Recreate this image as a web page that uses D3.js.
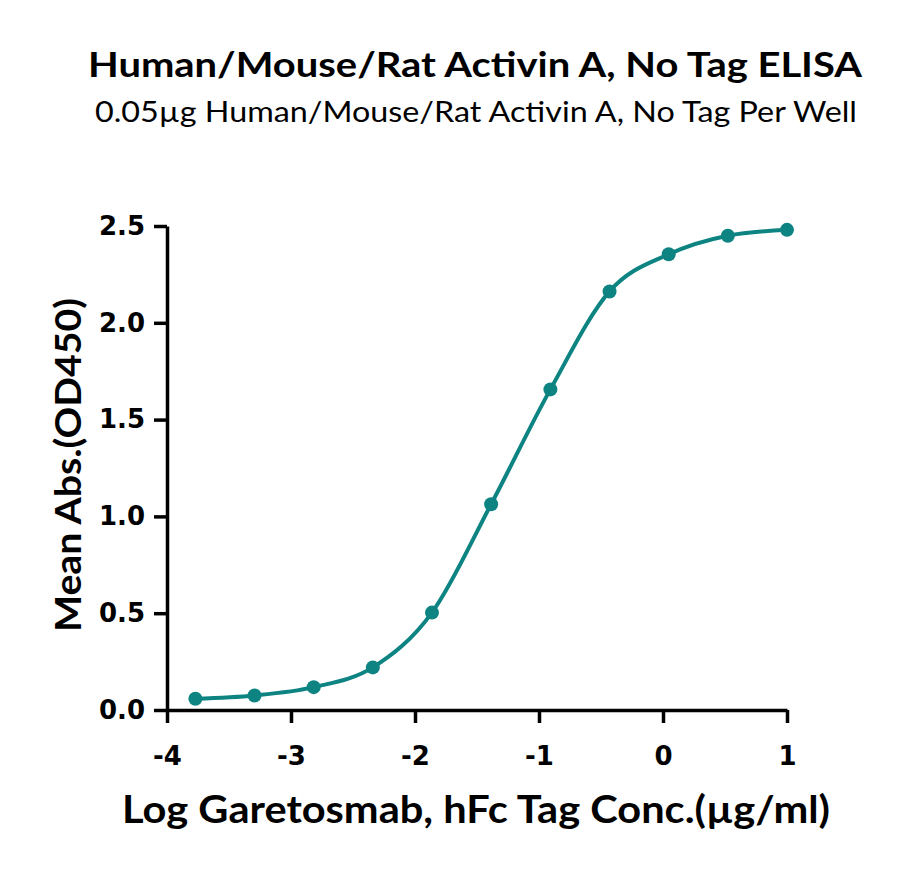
<!DOCTYPE html>
<html>
<head>
<meta charset="utf-8">
<script src="https://cdn.jsdelivr.net/npm/d3@7"></script>
<style>
  body { margin: 0; background: #fff; }
  svg { display: block; }
</style>
</head>
<body>
<svg id="chart" width="900" height="872"></svg>
<script>
// log10 concentration (µg/ml) and mean OD450
const logConc = [-3.771, -3.294, -2.817, -2.340, -1.863, -1.386, -0.908, -0.431, 0.046, 0.523, 1.0];
const meanAbs = [0.058, 0.075, 0.118, 0.220, 0.503, 1.063, 1.656, 2.162, 2.354, 2.450, 2.480];
const xTicks = [-4, -3, -2, -1, 0, 1];
const yTicks = [0, 0.5, 1.0, 1.5, 2.0, 2.5];

const title = "Human/Mouse/Rat Activin A, No Tag ELISA";
const subtitle = "0.05\u00b5g Human/Mouse/Rat Activin A, No Tag Per Well";
const xLabel = "Log Garetosmab, hFc Tag Conc.(\u00b5g/ml)";
const yLabel = "Mean Abs.(OD450)";

const color = "#0e8482";
const svg = d3.select("#chart");
const margin = { top: 226, right: 113, bottom: 162, left: 167 };
const width = 900, height = 872;
const labelFont = "Lato, 'Noto Sans', sans-serif";
const tickFont = "'DejaVu Sans', sans-serif";

const x = d3.scaleLinear()
  .domain([-4, 1])
  .range([margin.left, width - margin.right]);

const y = d3.scaleLinear()
  .domain([0, 2.5])
  .range([height - margin.bottom, margin.top]);

const data = logConc.map((d, i) => ({ x: d, y: meanAbs[i] }));

// titles
svg.append("text")
  .attr("x", 475).attr("y", 77)
  .attr("text-anchor", "middle")
  .attr("font-family", labelFont)
  .attr("font-weight", "bold")
  .attr("font-size", 35)
  .attr("textLength", 774)
  .attr("lengthAdjust", "spacingAndGlyphs")
  .text(title);

svg.append("text")
  .attr("x", 476).attr("y", 122)
  .attr("text-anchor", "middle")
  .attr("font-family", labelFont)
  .attr("font-size", 28)
  .attr("textLength", 762)
  .attr("lengthAdjust", "spacingAndGlyphs")
  .text(subtitle);

// axes
const xAxis = g => g
  .attr("transform", `translate(0,${y(0)})`)
  .call(d3.axisBottom(x).tickValues(xTicks).tickFormat(d => String(d))
    .tickSize(13).tickSizeOuter(0).tickPadding(24))
  .call(g => g.selectAll("path, line").attr("stroke", "#000").attr("stroke-width", 3.5))
  .call(g => g.selectAll(".tick text")
    .attr("font-family", tickFont)
    .attr("font-weight", "bold")
    .attr("font-size", 26)
    .attr("fill", "#000"));

const yAxis = g => g
  .attr("transform", `translate(${x(-4)},0)`)
  .call(d3.axisLeft(y).tickValues(yTicks).tickFormat(d3.format(".1f"))
    .tickSize(13).tickSizeOuter(0).tickPadding(9))
  .call(g => g.selectAll("path, line").attr("stroke", "#000").attr("stroke-width", 3.5))
  .call(g => g.selectAll(".tick text")
    .attr("font-family", tickFont)
    .attr("font-weight", "bold")
    .attr("font-size", 26)
    .attr("fill", "#000"));

svg.append("g").call(xAxis);
svg.append("g").call(yAxis);

// axis labels
svg.append("text")
  .attr("x", 476).attr("y", 823)
  .attr("text-anchor", "middle")
  .attr("font-family", labelFont)
  .attr("font-weight", "bold")
  .attr("font-size", 38)
  .attr("textLength", 708)
  .attr("lengthAdjust", "spacingAndGlyphs")
  .text(xLabel);

svg.append("text")
  .attr("transform", `translate(81,465) rotate(-90)`)
  .attr("text-anchor", "middle")
  .attr("font-family", labelFont)
  .attr("font-weight", "bold")
  .attr("font-size", 36)
  .attr("textLength", 334)
  .attr("lengthAdjust", "spacingAndGlyphs")
  .text(yLabel);

// fitted curve through the points
const line = d3.line()
  .x(d => x(d.x))
  .y(d => y(d.y))
  .curve(d3.curveMonotoneX);

svg.append("path")
  .datum(data)
  .attr("fill", "none")
  .attr("stroke", color)
  .attr("stroke-width", 4)
  .attr("d", line);

svg.append("g")
  .selectAll("circle")
  .data(data)
  .join("circle")
  .attr("cx", d => x(d.x))
  .attr("cy", d => y(d.y))
  .attr("r", 7)
  .attr("fill", color);
</script>
</body>
</html>
